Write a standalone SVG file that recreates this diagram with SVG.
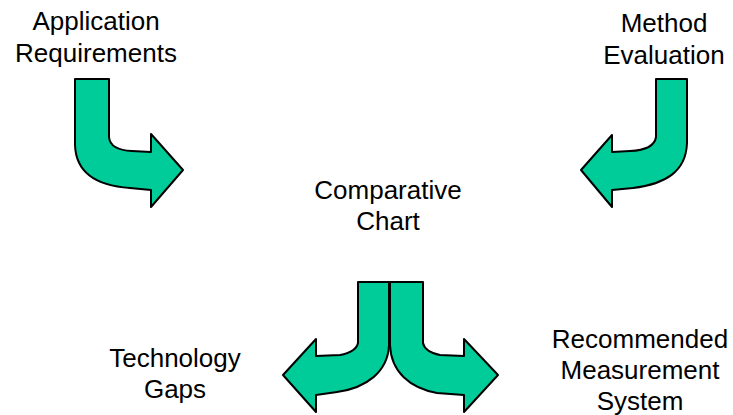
<svg xmlns="http://www.w3.org/2000/svg" width="733" height="415" viewBox="0 0 733 415">
  <style>
    .lbl { font-family: "Liberation Sans", Arial, sans-serif; font-size: 26px; fill: #000; text-anchor: middle; }
    .arrow { fill: #00CC99; stroke: #000; stroke-width: 2; stroke-linejoin: round; }
  </style>
  <rect width="733" height="415" fill="#fff"/>

  <g id="connectors">
    <!-- bent arrow from Application Requirements toward the chart -->
    <path id="arrow-req" class="arrow" d="M75,79 L109,79 L109,137 Q110,150 132,151 L151,152 L151,134 L183,170 L151,207 L151,190 L130,188 C100,186 76,175 75,145 Z"/>
    <!-- bent arrow from Method Evaluation toward the chart -->
    <path id="arrow-eval" class="arrow" d="M687,79 L656,79 L656,137 Q654,150 630,151 L612,152 L612,135 L581,170 L612,207 L612,190 L633,188 C665,184 686,172 687,143 Z"/>
    <!-- split arrow, left branch to Technology Gaps -->
    <path id="arrow-gaps" class="arrow" d="M389,282 L358,282 L358,343 Q356,352 340,355 L316,356 L316,339 L283,375 L316,412 L316,395 L337,392 C366,388 388,372 389,345 Z"/>
    <!-- split arrow, right branch to Recommended Measurement System -->
    <path id="arrow-rms" class="arrow" d="M390,282 L423,282 L423,343 Q425,352 440,355 L464,356 L464,339 L498,375 L464,412 L464,395 L437,393 C410,388 391,372 390,345 Z"/>
  </g>

  <g id="node-requirements">
    <text class="lbl" x="96" y="30">Application</text>
    <text class="lbl" x="96" y="62">Requirements</text>
  </g>
  <g id="node-evaluation">
    <text class="lbl" x="664" y="32">Method</text>
    <text class="lbl" x="664" y="64">Evaluation</text>
  </g>
  <g id="node-chart">
    <text class="lbl" x="388" y="199">Comparative</text>
    <text class="lbl" x="388" y="230">Chart</text>
  </g>
  <g id="node-gaps">
    <text class="lbl" x="175" y="367">Technology</text>
    <text class="lbl" x="175" y="398">Gaps</text>
  </g>
  <g id="node-system">
    <text class="lbl" x="640" y="348">Recommended</text>
    <text class="lbl" x="640" y="379">Measurement</text>
    <text class="lbl" x="640" y="410">System</text>
  </g>
</svg>
